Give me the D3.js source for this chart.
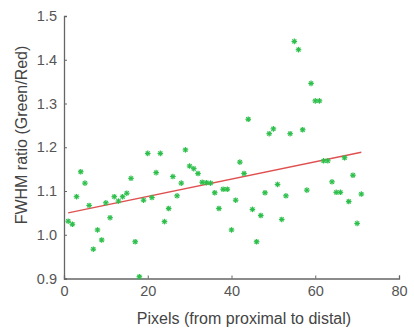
<!DOCTYPE html>
<html>
<head>
<meta charset="utf-8">
<script src="https://cdn.jsdelivr.net/npm/d3@7"></script>
<style>
  body { margin: 0; background: #fff; }
  svg { display: block; font-family: "Liberation Sans", Arial, sans-serif; }
</style>
</head>
<body>
<svg id="chart" width="414" height="330"></svg>
<script>
// pixel index along the cell (proximal -> distal)
var pixels = d3.range(1, 72);
// FWHM ratio green/red, one per pixel
var ratios = [
  1.031, 1.024, 1.087, 1.144, 1.118, 1.067, 0.967, 1.011, 0.988, 1.073,
  1.039, 1.087, 1.077, 1.087, 1.095, 1.129, 0.984, 0.904, 1.079, 1.186,
  1.085, 1.142, 1.186, 1.030, 1.060, 1.133, 1.089, 1.118, 1.194, 1.157,
  1.151, 1.140, 1.120, 1.119, 1.118, 1.096, 1.060, 1.104, 1.104, 1.011,
  1.079, 1.166, 1.140, 1.264, 1.058, 0.984, 1.044, 1.096, 1.231, 1.242,
  1.115, 1.035, 1.089, 1.231, 1.442, 1.423, 1.240, 1.102, 1.346, 1.306,
  1.306, 1.169, 1.169, 1.121, 1.097, 1.097, 1.176, 1.076, 1.136, 1.026,
  1.093
];
// linear fit shown in red
var fitX = [1, 71];
var fitIntercept = 1.048;
var fitSlope = 0.00198;

var xTicks = [0, 20, 40, 60, 80];
var yTicks = [0.9, 1.0, 1.1, 1.2, 1.3, 1.4, 1.5];

var svg = d3.select("#chart");
var x = d3.scaleLinear().domain([0, 80]).range([64, 399]);
var y = d3.scaleLinear().domain([0.9, 1.5]).range([278.5, 16]);

// axes, ticks pointing inwards like the matlab figure
var xAxis = svg.append("g")
  .attr("transform", "translate(0," + y(0.9) + ")")
  .call(d3.axisBottom(x).tickValues(xTicks).tickSizeInner(-3).tickSizeOuter(-3).tickPadding(7)
    .tickFormat(d3.format("d")));
var yAxis = svg.append("g")
  .attr("transform", "translate(" + x(0) + ",0)")
  .call(d3.axisLeft(y).tickValues(yTicks).tickSizeInner(-3).tickSizeOuter(-3).tickPadding(7)
    .tickFormat(d3.format(".1f")));

[xAxis, yAxis].forEach(function(a){
  a.select(".domain").attr("stroke", "#666").attr("stroke-width", 1.3);
  a.selectAll(".tick line").attr("stroke", "#666");
  a.selectAll(".tick text").attr("fill", "#555").style("font-size", "14.5px")
    .style("font-family", "'Liberation Sans', Arial, sans-serif");
});

// fit line
svg.append("line")
  .attr("x1", x(fitX[0])).attr("y1", y(fitIntercept + fitSlope * fitX[0]))
  .attr("x2", x(fitX[1])).attr("y2", y(fitIntercept + fitSlope * fitX[1]))
  .attr("stroke", "#e05050").attr("stroke-width", 1.3);

// asterisk markers
var pts = svg.append("g").attr("stroke", "#2cbf4a").attr("stroke-width", 1.2);
pixels.forEach(function(p, i){
  var cx = x(p), cy = y(ratios[i]), r = 2.8, d = 2;
  var m = pts.append("g");
  m.append("line").attr("x1", cx - r).attr("x2", cx + r).attr("y1", cy).attr("y2", cy);
  m.append("line").attr("x1", cx).attr("x2", cx).attr("y1", cy - r).attr("y2", cy + r);
  m.append("line").attr("x1", cx - d).attr("x2", cx + d).attr("y1", cy - d).attr("y2", cy + d);
  m.append("line").attr("x1", cx - d).attr("x2", cx + d).attr("y1", cy + d).attr("y2", cy - d);
});

// axis labels
svg.append("text")
  .attr("x", 244).attr("y", 324)
  .attr("text-anchor", "middle")
  .style("font-size", "16px").attr("fill", "#444")
  .text("Pixels (from proximal to distal)");

svg.append("text")
  .attr("transform", "translate(27,135) rotate(-90)")
  .attr("text-anchor", "middle")
  .style("font-size", "16px").attr("fill", "#444")
  .text("FWHM ratio (Green/Red)");
</script>
</body>
</html>
